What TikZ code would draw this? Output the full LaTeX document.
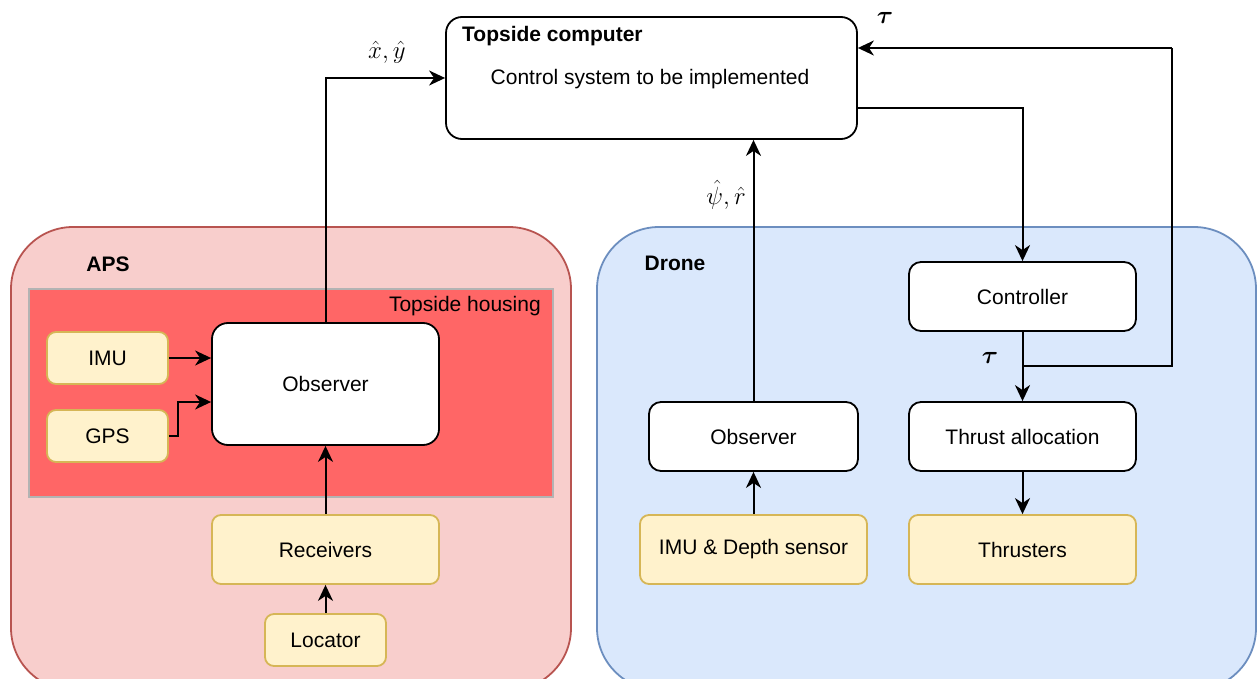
\documentclass[tikz,border=0pt]{standalone}
\usepackage{amsmath}
\usepackage[no-math]{fontspec}
\setmainfont{Liberation Sans}
\usetikzlibrary{arrows.meta,calc}

\definecolor{noteFill}{HTML}{FFF2CC}
\definecolor{noteLine}{HTML}{D6B656}
\definecolor{apsFill}{HTML}{F8CECC}
\definecolor{apsLine}{HTML}{B85450}
\definecolor{droneFill}{HTML}{DAE8FC}
\definecolor{droneLine}{HTML}{6C8EBF}
\definecolor{housingFill}{HTML}{FF6666}
\definecolor{housingLine}{HTML}{B3B3B3}

\tikzset{
  txt/.style={font=\fontsize{21}{25}\selectfont},
  boldtxt/.style={font=\fontsize{21}{25}\selectfont\bfseries},
  mathlbl/.style={font=\fontsize{25}{30}\selectfont, inner sep=0pt},
  block/.style={txt, draw=black, line width=1.8pt, fill=white, rounded corners=12pt,
    inner sep=0pt, anchor=center},
  sensor/.style={txt, draw=noteLine, line width=1.8pt, fill=noteFill, rounded corners=9pt,
    inner sep=0pt, anchor=center},
  arr/.style={line width=2pt, -{Stealth[length=16pt,width=15pt,inset=5pt]}},
  wire/.style={line width=2pt},
  region/.style={line width=1.8pt, rounded corners=62pt},
}

\begin{document}
\begin{tikzpicture}[x=1pt,y=-1pt]
\useasboundingbox (0,0) rectangle (1258,679);

% enclosing regions, cut at the lower page edge
\begin{scope}
  \clip (0,0) rectangle (1258,679);
  \draw[region, fill=apsFill, draw=apsLine] (11,227) rectangle (571,690);
  \draw[region, fill=droneFill, draw=droneLine] (597,227) rectangle (1256,690);
\end{scope}
\draw[line width=1.8pt, fill=housingFill, draw=housingLine] (29,289) rectangle (553,497);

\node[boldtxt] (apslbl) at (108,264) {APS};
\node[boldtxt] (dronelbl) at (675,263) {Drone};
\node[txt, anchor=east, inner sep=0pt] (houselbl) at (541,306) {Topside housing};

% topside computer
\node[block, minimum width=411pt, minimum height=122pt, rounded corners=16pt] (top) at (651.5,78) {};
\node[boldtxt, anchor=west, inner sep=0pt] (toptitle) at (462,36) {Topside computer};
\node[txt, inner sep=0pt] (topbody) at (650,79) {Control system to be implemented};

% drone side
\node[block, minimum width=227pt, minimum height=69pt] (ctrl) at (1022.5,296.5) {Controller};
\node[block, minimum width=227pt, minimum height=69pt] (thr) at (1022.5,436.5) {Thrust allocation};
\node[sensor, minimum width=227pt, minimum height=69pt] (thrusters) at (1022.5,549.5) {Thrusters};
\node[block, minimum width=209pt, minimum height=69pt] (dobs) at (753.5,436.5) {Observer};
\node[sensor, minimum width=227pt, minimum height=69pt] (imud) at (753.5,549.5) {IMU \& Depth sensor};

% APS side
\node[block, minimum width=227pt, minimum height=122pt, rounded corners=16pt] (aobs) at (325.5,384) {Observer};
\node[sensor, minimum width=121pt, minimum height=52pt] (imu) at (107.5,358) {IMU};
\node[sensor, minimum width=121pt, minimum height=52pt] (gps) at (107.5,436) {GPS};
\node[sensor, minimum width=227pt, minimum height=69pt] (rec) at (325.5,549.5) {Receivers};
\node[sensor, minimum width=121pt, minimum height=52pt] (loc) at (325.5,640) {Locator};

% connectors
\draw[arr] (aobs.north) |- (top.west);
\draw[arr] ([yshift=-30pt]top.east) -| (ctrl.north);
\coordinate (tap) at (1022.5,366);
\coordinate (fbcorner) at (1172,48);
\draw[wire] (tap) -| (fbcorner);
\draw[arr] (fbcorner) -- ([yshift=30pt]top.east);
\draw[arr] (ctrl.south) -- (thr.north);
\draw[arr] (thr.south) -- (thrusters.north);
\draw[arr] (imud.north) -- (dobs.south);
\draw[arr] (dobs.north) -- (dobs.north |- top.south);
\draw[arr] (imu.east) -- (aobs.west |- imu.east);
\draw[arr] (gps.east) -- ++(9,0) |- ([yshift=-18pt]aobs.west);
\draw[arr] (rec.north) -- (aobs.south);
\draw[arr] (loc.north) -- (rec.south);

% signal labels
\node[mathlbl] (lxy) at (387,52) {$\hat{x},\hat{y}$};
\node[mathlbl] (lpsir) at (726,195) {$\hat{\psi},\hat{r}$};
\node[mathlbl] (ltautop) at (885,18) {$\boldsymbol{\tau}$};
\node[mathlbl] (ltau) at (990,358) {$\boldsymbol{\tau}$};
\end{tikzpicture}
\end{document}
